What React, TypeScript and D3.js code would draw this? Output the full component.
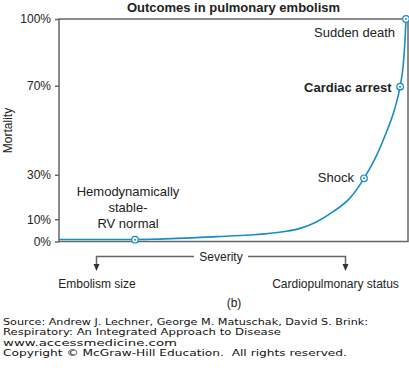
import { useEffect, useRef } from 'react'
import * as d3 from 'd3'

// severity (0-100, arbitrary units) vs mortality (%)
const severity = [0, 21.9, 26.2, 45.4, 55, 64.6, 69.5, 74.3, 79, 83.9, 87.9, 91.6, 94.4, 96.8, 98.3, 99.2, 99.7, 100]
const mortality = [0.9, 0.9, 1.0, 2.2, 2.9, 4.4, 5.9, 8.9, 13.4, 19.6, 28.4, 38.9, 49.3, 59.9, 69.6, 79.3, 90, 100]

const markerSeverity = [21.9, 87.9, 98.3, 100]
const markerMortality = [0.8, 28.4, 69.6, 100]

const yTicks = [0, 10, 30, 70, 100]

const sourceLines = [
  'Source: Andrew J. Lechner, George M. Matuschak, David S. Brink:',
  'Respiratory: An Integrated Approach to Disease',
  'www.accessmedicine.com',
  'Copyright © McGraw-Hill Education.  All rights reserved.',
]
const sourceWidths = [365, 278, 174, 344]

const width = 409
const height = 372
const left = 59
const right = 406
const top = 19
const bottom = 241.5

const BLUE = '#1a8cc5'
const GRAY = '#666'
const TEXT = '#222'
const SANS = 'Liberation Sans, Arial, Helvetica, sans-serif'

function App() {
  const ref = useRef<SVGSVGElement>(null)

  useEffect(() => {
    drawChart()
  }, [])

  const drawChart = () => {
    const svg = d3.select(ref.current)
    svg.selectAll('*').remove()

    const xScale = d3.scaleLinear().domain([0, 100]).range([left, right])
    const yScale = d3.scaleLinear().domain([0, 100]).range([bottom, top])

    // title
    svg
      .append('text')
      .attr('x', 233.5)
      .attr('y', 12)
      .attr('text-anchor', 'middle')
      .attr('font-family', SANS)
      .attr('font-size', 13)
      .attr('font-weight', 'bold')
      .attr('fill', TEXT)
      .text('Outcomes in pulmonary embolism')

    // frame
    svg
      .append('rect')
      .attr('x', left)
      .attr('y', top)
      .attr('width', 408 - left)
      .attr('height', bottom - top)
      .attr('fill', 'none')
      .attr('stroke', GRAY)
      .attr('stroke-width', 1.5)

    // y axis
    const yAxis = svg
      .append('g')
      .attr('transform', `translate(${left},0)`)
      .call(
        d3
          .axisLeft(yScale)
          .tickValues(yTicks)
          .tickSize(4)
          .tickPadding(4)
          .tickFormat((d: any) => `${d}%`)
      )
    yAxis.select('.domain').remove()
    yAxis.selectAll('line').attr('stroke', GRAY).attr('stroke-width', 1.5)
    yAxis
      .selectAll('text')
      .attr('font-family', SANS)
      .attr('font-size', 12)
      .attr('fill', TEXT)

    svg
      .append('text')
      .attr('transform', 'translate(12,130.5) rotate(-90)')
      .attr('text-anchor', 'middle')
      .attr('font-family', SANS)
      .attr('font-size', 12)
      .attr('fill', TEXT)
      .text('Mortality')

    // curve
    const pts = severity.map((s, i) => [s, mortality[i]])
    const line = d3
      .line()
      .x((d: any) => xScale(d[0]))
      .y((d: any) => yScale(d[1]))
      .curve(d3.curveMonotoneX)
    svg
      .append('path')
      .datum(pts)
      .attr('fill', 'none')
      .attr('stroke', BLUE)
      .attr('stroke-width', 1.6)
      .attr('d', line as any)

    // markers
    const marks = svg
      .selectAll('.mark')
      .data(markerSeverity.map((s, i) => [s, markerMortality[i]]))
      .enter()
      .append('g')
      .attr('class', 'mark')
      .attr('transform', (d) => `translate(${xScale(d[0])},${yScale(d[1])})`)
    marks
      .append('circle')
      .attr('r', 3.3)
      .attr('fill', 'white')
      .attr('stroke', BLUE)
      .attr('stroke-width', 1.2)
    marks.append('circle').attr('r', 1).attr('fill', BLUE)

    // labels
    const label = (x: number, y: number, t: string, anchor = 'end', bold = false) =>
      svg
        .append('text')
        .attr('x', x)
        .attr('y', y)
        .attr('text-anchor', anchor)
        .attr('font-family', SANS)
        .attr('font-size', 13)
        .attr('font-weight', bold ? 'bold' : 'normal')
        .attr('fill', TEXT)
        .text(t)

    label(395, 37, 'Sudden death')
    label(391.5, 91.5, 'Cardiac arrest', 'end', true)
    label(354, 182, 'Shock')
    label(128, 196, 'Hemodynamically', 'middle')
    label(128, 212, 'stable-', 'middle')
    label(128, 228, 'RV normal', 'middle')

    // severity bracket
    const g = svg.append('g').attr('stroke', GRAY).attr('stroke-width', 1.5).attr('fill', 'none')
    g.append('path').attr('d', 'M96.5,266 V256.5 H194')
    g.append('path').attr('d', 'M248,256.5 H345.5 V266')
    svg
      .append('path')
      .attr('d', 'M93.5,264 L99.5,264 L96.5,271 Z M342.5,264 L348.5,264 L345.5,271 Z')
      .attr('fill', '#333')

    const small = (x: number, y: number, t: string) =>
      svg
        .append('text')
        .attr('x', x)
        .attr('y', y)
        .attr('text-anchor', 'middle')
        .attr('font-family', SANS)
        .attr('font-size', 12)
        .attr('fill', TEXT)
        .text(t)
    small(221, 260.5, 'Severity')
    small(97, 287.5, 'Embolism size')
    small(335.5, 287.5, 'Cardiopulmonary status')
    small(234, 306.5, '(b)')

    // source lines
    svg
      .selectAll('.src')
      .data(sourceLines)
      .enter()
      .append('text')
      .attr('class', 'src')
      .attr('x', 3)
      .attr('y', (_d, i) => 324.5 + i * 10.6)
      .attr('font-family', 'DejaVu Sans, Verdana, sans-serif')
      .attr('font-size', 9)
      .attr('textLength', (_d, i) => sourceWidths[i])
      .attr('lengthAdjust', 'spacingAndGlyphs')
      .attr('fill', '#111')
      .style('white-space', 'pre')
      .text((d) => d)
  }

  return (
    <svg
      ref={ref}
      width={width}
      height={height}
      style={{ position: 'absolute', left: 0, top: 0, background: 'white' }}
    />
  )
}

export default App
